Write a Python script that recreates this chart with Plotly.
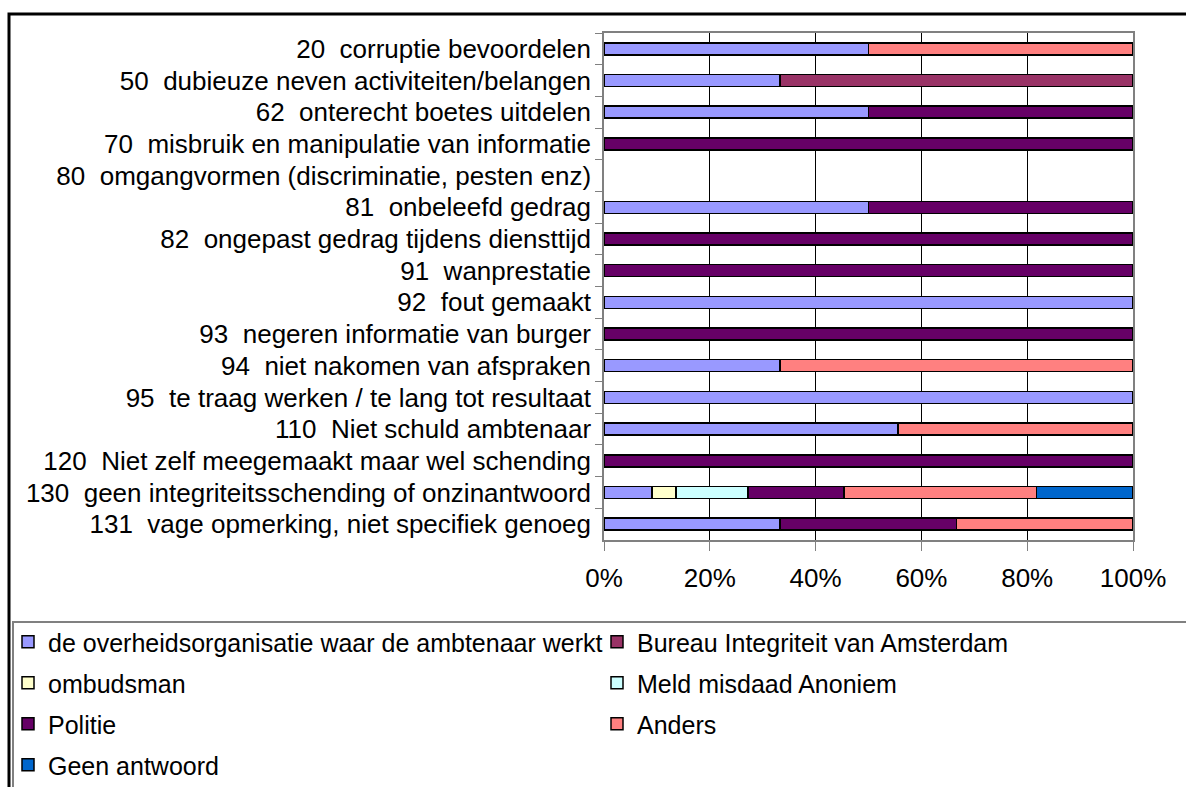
import plotly.graph_objects as go

categories = [
    "20  corruptie bevoordelen",
    "50  dubieuze neven activiteiten/belangen",
    "62  onterecht boetes uitdelen",
    "70  misbruik en manipulatie van informatie",
    "80  omgangvormen (discriminatie, pesten enz)",
    "81  onbeleefd gedrag",
    "82  ongepast gedrag tijdens diensttijd",
    "91  wanprestatie",
    "92  fout gemaakt",
    "93  negeren informatie van burger",
    "94  niet nakomen van afspraken",
    "95  te traag werken / te lang tot resultaat",
    "110  Niet schuld ambtenaar",
    "120  Niet zelf meegemaakt maar wel schending",
    "130  geen integriteitsschending of onzinantwoord",
    "131  vage opmerking, niet specifiek genoeg",
]

series_names = [
    "de overheidsorganisatie waar de ambtenaar werkt",
    "Bureau Integriteit van Amsterdam",
    "ombudsman",
    "Meld misdaad Anoniem",
    "Politie",
    "Anders",
    "Geen antwoord",
]

overheid = [50, 33.3, 50, None, None, 50, None, None, 100, None, 33.3, 100, 55.6, None, 9.1, 33.3]
bureau = [None, 66.7, None, None, None, None, None, None, None, None, None, None, None, None, None, None]
ombudsman = [None, None, None, None, None, None, None, None, None, None, None, None, None, None, 4.5, None]
meld = [None, None, None, None, None, None, None, None, None, None, None, None, None, None, 13.6, None]
politie = [None, None, 50, 100, None, 50, 100, 100, None, 100, None, None, None, 100, 18.2, 33.3]
anders = [50, None, None, None, None, None, None, None, None, None, 66.7, None, 44.4, None, 36.4, 33.4]
geen = [None, None, None, None, None, None, None, None, None, None, None, None, None, None, 18.2, None]

series_values = [overheid, bureau, ombudsman, meld, politie, anders, geen]
colors = ["#9999FF", "#993366", "#FFFFCC", "#CCFFFF", "#660066", "#FF8080", "#0066CC"]
legend_ref = ["legend", "legend2", "legend", "legend2", "legend", "legend2", "legend"]

x_ticks = [0, 20, 40, 60, 80, 100]
x_tick_labels = ["0%", "20%", "40%", "60%", "80%", "100%"]

FONT = "Liberation Sans, Arial, sans-serif"
W, H = 1186, 787
ML, MR, MT, MB = 604, 53, 33, 247
PW, PH = W - ML - MR, H - MT - MB


def px_x(p):
    return (p - ML) / PW


def px_y(p):
    return (H - MB - p) / PH


fig = go.Figure()
for name, vals, col, lg in zip(series_names, series_values, colors, legend_ref):
    fig.add_trace(go.Bar(
        y=categories, x=vals, name=name, orientation="h",
        marker=dict(color=col, line=dict(color="black", width=1.5)),
        legend=lg, legendgroup=name,
    ))

fig.update_layout(
    width=W, height=H,
    margin=dict(l=ML, r=MR, t=MT, b=MB, autoexpand=False),
    barmode="stack", bargap=0.62,
    plot_bgcolor="white", paper_bgcolor="white",
    font=dict(family=FONT, size=26, color="black"),
    xaxis=dict(
        range=[0, 100], tickvals=x_ticks, ticktext=x_tick_labels,
        showgrid=True, gridcolor="black", gridwidth=1,
        showline=True, linecolor="#808080", linewidth=1.5, mirror=True,
        ticks="outside", ticklen=9, tickcolor="#808080", ticklabelstandoff=5,
        zeroline=False, fixedrange=True,
    ),
    yaxis=dict(
        autorange="reversed", type="category",
        showline=True, linecolor="#808080", linewidth=1.5, mirror=True,
        ticks="outside", ticklen=7, tickcolor="#808080", tickson="boundaries",
        ticklabelstandoff=6, showgrid=False,
    ),
    legend=dict(
        x=px_x(8), y=px_y(619), xanchor="left", yanchor="top",
        orientation="v", tracegroupgap=5.5, bgcolor="rgba(0,0,0,0)",
        font=dict(family=FONT, size=25), traceorder="grouped",
    ),
    legend2=dict(
        x=px_x(597), y=px_y(619), xanchor="left", yanchor="top",
        orientation="v", tracegroupgap=5.5, bgcolor="rgba(0,0,0,0)",
        font=dict(family=FONT, size=25), traceorder="grouped",
    ),
    shapes=[
        dict(type="rect", xref="paper", yref="paper",
             x0=px_x(9), x1=px_x(1200), y0=px_y(14), y1=px_y(800),
             line=dict(color="black", width=3), layer="above"),
        dict(type="rect", xref="paper", yref="paper",
             x0=px_x(13), x1=px_x(1200), y0=px_y(622), y1=px_y(800),
             line=dict(color="#808080", width=2), layer="above"),
    ],
    showlegend=True,
)

fig.write_html("out.html", config={"displayModeBar": False},
               post_script="document.body.style.margin='0';")
